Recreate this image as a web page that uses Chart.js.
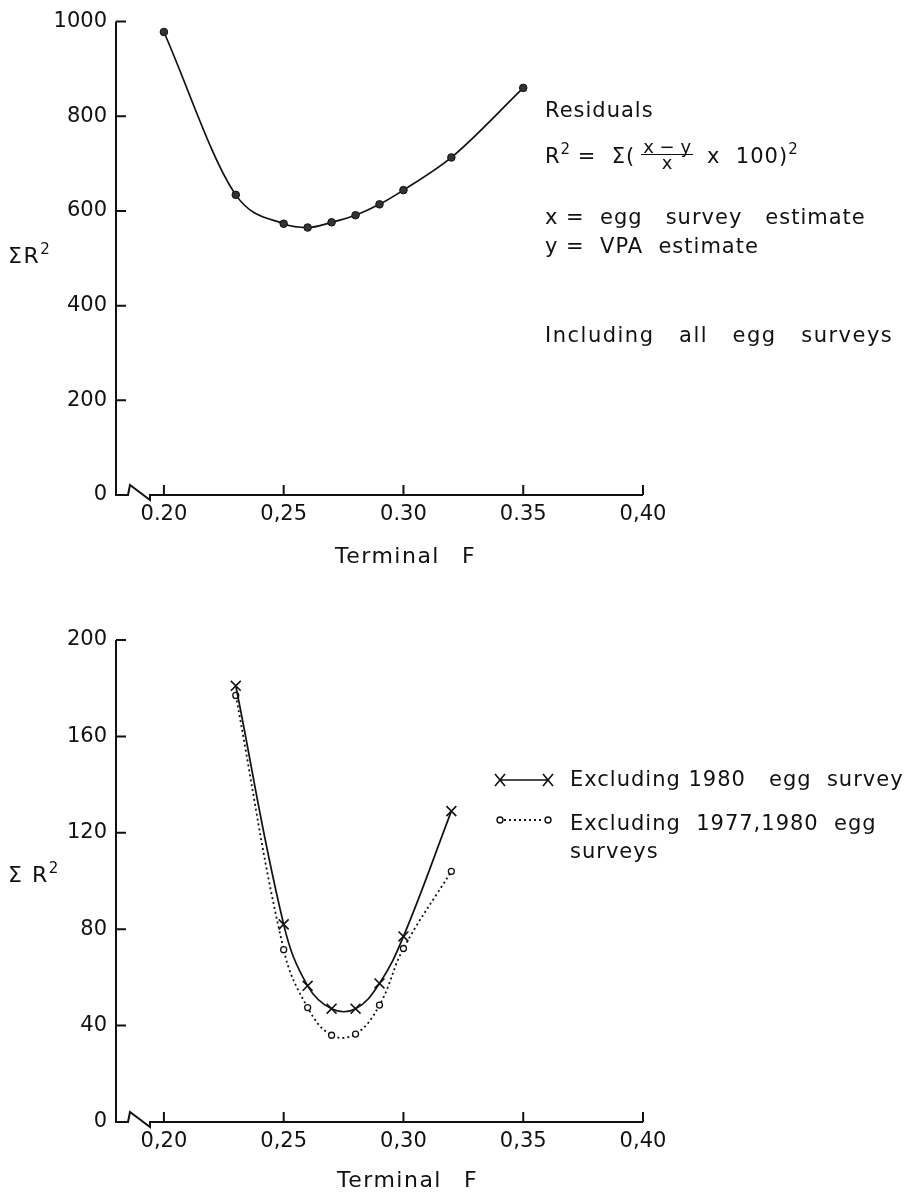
<!DOCTYPE html>
<html>
<head>
<meta charset="utf-8">
<script src="https://cdn.jsdelivr.net/npm/chart.js@4.4.1/dist/chart.umd.min.js"></script>
<style>
  body { margin: 0; background: #fff; }
  #page {
    position: relative; width: 920px; height: 1195px; overflow: hidden;
    font-family: "DejaVu Sans", sans-serif; color: #111;
  }
  canvas { position: absolute; left: 0; }
  .note {
    position: absolute; font-size: 21px; line-height: 21px;
    letter-spacing: 1px; white-space: pre;
  }
  .axis-title { font-size: 22px; line-height: 22px; letter-spacing: 1.5px; }
  .gap { display: inline-block; width: 22px; }
  sup { font-size: 15px; line-height: 0; vertical-align: 9px; letter-spacing: 0; }
  .frac {
    display: inline-block; vertical-align: -6px; font-size: 18px; line-height: 15px;
    text-align: center; letter-spacing: 0; margin: 0 14px 0 6px;
  }
  .frac span { display: block; }
  .frac .num { border-bottom: 1.5px solid #111; padding: 0 2px; }
</style>
</head>
<body>
<div id="page">
  <canvas id="topChart" width="920" height="600" style="top:0;width:920px;height:600px"></canvas>
  <canvas id="bottomChart" width="920" height="595" style="top:600px;width:920px;height:595px"></canvas>

  <!-- upper panel text -->
  <div class="note axis-title" style="left:8px;top:245px">ΣR<sup>2</sup></div>
  <div class="note axis-title" style="left:335px;top:545px">Terminal<span class="gap"></span>F</div>
  <div class="note" style="left:545px;top:100px">Residuals</div>
  <div class="note" style="left:545px;top:139px">R<sup>2</sup> =  Σ(<span class="frac"><span class="num">x − y</span><span>x</span></span>x  100)<sup>2</sup></div>
  <div class="note" style="left:545px;top:207px">x =  egg   survey   estimate</div>
  <div class="note" style="left:545px;top:236px">y =  VPA  estimate</div>
  <div class="note" style="left:545px;top:325px;letter-spacing:1.5px">Including   all   egg   surveys</div>

  <!-- lower panel text -->
  <div class="note axis-title" style="left:8px;top:864px">Σ R<sup>2</sup></div>
  <div class="note axis-title" style="left:337px;top:1169px">Terminal<span class="gap"></span>F</div>
  <div class="note" style="left:570px;top:769px">Excluding 1980   egg  survey</div>
  <div class="note" style="left:570px;top:809px;line-height:28px">Excluding  1977,1980  egg
surveys</div>
</div>

<script>
// terminal F on the x axis
const xTicks = [0.20, 0.25, 0.30, 0.35, 0.40];
const topXLabels = ["0.20", "0,25", "0.30", "0.35", "0,40"];
const bottomXLabels = ["0,20", "0,25", "0,30", "0,35", "0,40"];

// upper panel: all egg surveys included
const fAll = [0.20, 0.23, 0.25, 0.26, 0.27, 0.28, 0.29, 0.30, 0.32, 0.35];
const residAll = [978, 634, 573, 565, 576, 591, 614, 644, 713, 860];
const topYTicks = [0, 200, 400, 600, 800, 1000];

// lower panel: some surveys left out
const fSubset = [0.23, 0.25, 0.26, 0.27, 0.28, 0.29, 0.30, 0.32];
const residEx1980 = [181, 82, 56.5, 47, 47, 57.5, 77, 129];
const residEx1977and1980 = [177, 71.5, 47.5, 36, 36.5, 48.5, 72, 104];
const bottomYTicks = [0, 40, 80, 120, 160, 200];

const INK = "#111";
const tickFont = { family: '"DejaVu Sans", sans-serif', size: 21 };

function toPoints(xs, ys) {
  return xs.map((x, i) => ({ x: x, y: ys[i] }));
}

// y axis, broken x axis and inward tick marks
const axisFrame = {
  id: "axisFrame",
  beforeDatasetsDraw(chart) {
    const { ctx, scales: { x, y } } = chart;
    const x0 = x.left, yb = y.bottom;
    ctx.save();
    ctx.strokeStyle = INK;
    ctx.lineWidth = 2;
    ctx.beginPath();
    ctx.moveTo(x0, y.top);
    ctx.lineTo(x0, yb);
    ctx.lineTo(x0 + 12, yb);
    ctx.lineTo(x0 + 14, yb - 10);
    ctx.lineTo(x0 + 34, yb + 5);
    ctx.lineTo(x0 + 34, yb);
    ctx.lineTo(x.right, yb);
    ctx.stroke();
    ctx.beginPath();
    y.ticks.forEach((t) => {
      const py = y.getPixelForValue(t.value);
      ctx.moveTo(x0, py);
      ctx.lineTo(x0 + 10, py);
    });
    x.ticks.forEach((t) => {
      const px = x.getPixelForValue(t.value);
      ctx.moveTo(px, yb);
      ctx.lineTo(px, yb - 10);
    });
    ctx.stroke();
    ctx.restore();
  }
};

// key symbols next to the lower panel's legend text
const legendKeys = {
  id: "legendKeys",
  afterDraw(chart) {
    const ctx = chart.ctx;
    ctx.save();
    ctx.strokeStyle = INK;
    ctx.lineWidth = 1.6;
    // crosses joined by a solid line
    let y = 180;
    ctx.beginPath();
    ctx.moveTo(500, y); ctx.lineTo(548, y);
    [500, 548].forEach((cx) => {
      ctx.moveTo(cx - 5, y - 6); ctx.lineTo(cx + 5, y + 6);
      ctx.moveTo(cx - 5, y + 6); ctx.lineTo(cx + 5, y - 6);
    });
    ctx.stroke();
    // open circles joined by a dotted line
    y = 220;
    ctx.beginPath();
    ctx.setLineDash([2, 3]);
    ctx.lineWidth = 1.8;
    ctx.moveTo(504, y); ctx.lineTo(544, y);
    ctx.stroke();
    ctx.setLineDash([]);
    ctx.lineWidth = 1.4;
    [500, 548].forEach((cx) => {
      ctx.beginPath();
      ctx.arc(cx, y, 3, 0, Math.PI * 2);
      ctx.stroke();
    });
    ctx.restore();
  }
};

function makeScales(yTicks, xLabels, xAxisHeight) {
  return {
    x: {
      type: "linear",
      min: 0.18,
      max: 0.40,
      grid: { display: false, drawTicks: false },
      border: { display: false },
      afterBuildTicks: (s) => { s.ticks = xTicks.map((v) => ({ value: v })); },
      afterFit: (s) => { s.height = xAxisHeight; },
      ticks: {
        padding: 7,
        autoSkip: false,
        maxRotation: 0,
        color: INK,
        font: tickFont,
        callback: (v, i) => xLabels[i]
      }
    },
    y: {
      min: 0,
      max: yTicks[yTicks.length - 1],
      grid: { display: false, drawTicks: false },
      border: { display: false },
      afterBuildTicks: (s) => { s.ticks = yTicks.map((v) => ({ value: v })); },
      afterFit: (s) => { s.width = 116; },
      ticks: { padding: 9, color: INK, font: tickFont, callback: (v) => String(v) }
    }
  };
}

const common = {
  responsive: false,
  animation: false,
  events: [],
  plugins: { legend: { display: false }, tooltip: { enabled: false } }
};

new Chart(document.getElementById("topChart"), {
  type: "line",
  data: {
    datasets: [{
      data: toPoints(fAll, residAll),
      borderColor: INK,
      borderWidth: 1.7,
      cubicInterpolationMode: "monotone",
      pointStyle: "circle",
      pointRadius: 3.8,
      pointBackgroundColor: "#333",
      pointBorderColor: INK,
      pointBorderWidth: 1
    }]
  },
  options: {
    ...common,
    layout: { padding: { left: 0, right: 277, top: 15, bottom: 0 } },
    scales: makeScales(topYTicks, topXLabels, 105)
  },
  plugins: [axisFrame]
});

new Chart(document.getElementById("bottomChart"), {
  type: "line",
  data: {
    datasets: [
      {
        data: toPoints(fSubset, residEx1980),
        borderColor: INK,
        borderWidth: 1.7,
        tension: 0.4,
        pointStyle: "crossRot",
        pointRadius: 7,
        pointBorderColor: INK,
        pointBorderWidth: 1.6
      },
      {
        data: toPoints(fSubset, residEx1977and1980),
        borderColor: INK,
        borderWidth: 1.8,
        borderDash: [2, 3],
        tension: 0.4,
        pointStyle: "circle",
        pointRadius: 3,
        pointBackgroundColor: "#fff",
        pointBorderColor: INK,
        pointBorderWidth: 1.3
      }
    ]
  },
  options: {
    ...common,
    layout: { padding: { left: 0, right: 277, top: 40, bottom: 0 } },
    scales: makeScales(bottomYTicks, bottomXLabels, 73)
  },
  plugins: [axisFrame, legendKeys]
});
</script>
</body>
</html>
